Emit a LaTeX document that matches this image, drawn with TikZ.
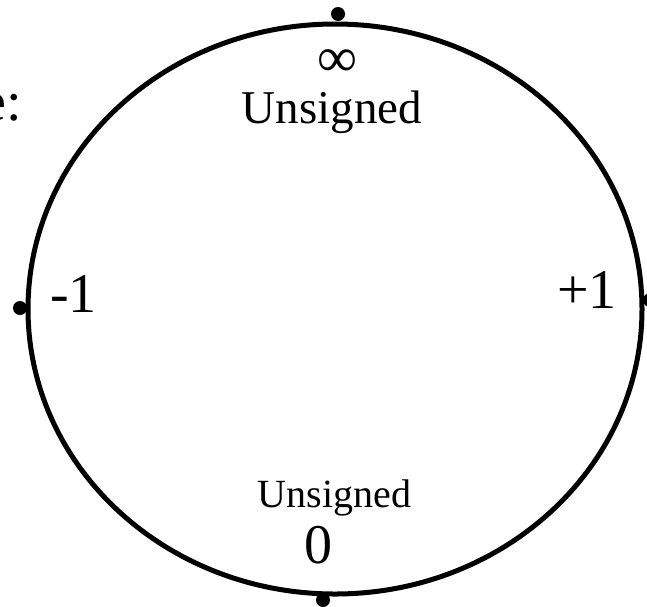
\documentclass[tikz,border=0pt]{standalone}
\usepackage{fontspec}
\setmainfont{Liberation Serif}
\begin{document}
\begin{tikzpicture}[x=1pt,y=-1pt,
  lbl/.style={inner sep=0pt,anchor=base},
  big/.style={font=\fontsize{56}{60}\selectfont},
  dotpt/.style={circle,fill=black,inner sep=0pt,minimum size=14pt}]
\useasboundingbox (0,0) rectangle (647,606);
\draw[line width=5pt] (335,309) ellipse [x radius=307, y radius=285];
\node[dotpt] (top) at (338,14) {};
\node[dotpt] (bot) at (323,600) {};
\node[dotpt] (lft) at (20,308) {};
\node[dotpt] (rgt) at (650,300) {};
\node[inner sep=0pt,anchor=center,big] (inf) at (337.5,63.5) {∞};
\node[lbl,font=\fontsize{47}{50}\selectfont] (uns1) at (332,123) {Unsigned};
\node[lbl,font=\fontsize{40}{44}\selectfont] (uns2) at (334.5,507) {Unsigned};
\node[lbl,big] (zero) at (318,563) {0};
\node[lbl,big] (m1) at (73.5,312) {-1};
\node[lbl,big] (p1) at (587,308) {+1};
\node[lbl,big,anchor=base east] (rng) at (22,120) {e:};
\end{tikzpicture}
\end{document}
